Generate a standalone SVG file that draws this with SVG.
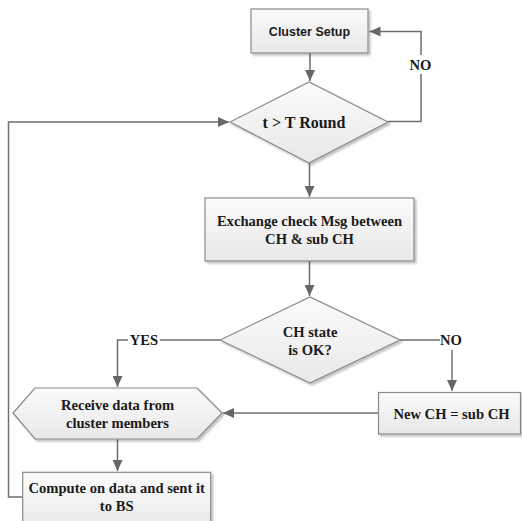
<svg xmlns="http://www.w3.org/2000/svg" width="522" height="521" viewBox="0 0 522 521">
<defs>
<linearGradient id="g" x1="0" y1="0" x2="0" y2="1">
<stop offset="0" stop-color="#fbfbfb"/>
<stop offset="1" stop-color="#e8e8e8"/>
</linearGradient>
<filter id="sh" x="-10%" y="-10%" width="130%" height="140%">
<feGaussianBlur in="SourceAlpha" stdDeviation="1.2"/>
<feOffset dx="2" dy="2" result="b"/>
<feComponentTransfer><feFuncA type="linear" slope="0.25"/></feComponentTransfer>
<feMerge><feMergeNode/><feMergeNode in="SourceGraphic"/></feMerge>
</filter>
<marker id="ah" markerWidth="12" markerHeight="10" refX="11" refY="5" orient="auto" markerUnits="userSpaceOnUse">
<path d="M0,0 L11,5 L0,10 z" fill="#666"/>
</marker>
</defs>
<style>
.n{fill:url(#g);stroke:#8a8a8a;stroke-width:1.2;filter:url(#sh)}
.c{fill:none;stroke:#6e6e6e;stroke-width:1.5}
.a{marker-end:url(#ah)}
.t{font-family:"Liberation Serif","Times New Roman",serif;font-weight:bold;font-size:14.6px;fill:#1a1a1a;text-anchor:middle}
.s{font-family:"Liberation Sans",Arial,sans-serif;font-weight:bold;font-size:12.5px;fill:#1a1a1a;text-anchor:middle}
</style>
<rect width="522" height="521" fill="#fff"/>
<g id="connectors">
<path class="c a" d="M310,53 V81"/>
<path class="c" d="M388,121.5 H421 V74"/>
<path class="c a" d="M421,55 V31.5 H369.5"/>
<path class="c a" d="M309.5,163 V197"/>
<path class="c a" d="M309.5,261 V296"/>
<path class="c a" d="M22.7,497 H8.5 V122 H229"/>
<path class="c" d="M400,340 H440"/>
<path class="c a" d="M452,350 V391"/>
<path class="c" d="M220,340 H160"/>
<path class="c a" d="M128,340 H117.5 V387"/>
<path class="c a" d="M378,413 H223"/>
<path class="c a" d="M117.5,439 V471"/>
</g>
<g id="cluster-setup">
<rect class="n" x="251" y="9" width="117" height="44"/>
<text class="s" x="309.5" y="35.5">Cluster Setup</text>
</g>
<g id="t-round">
<polygon class="n" points="230,122 309,82 388,122 309,163"/>
<text class="t" x="304" y="127.5" style="font-size:16px">t &gt; T Round</text>
</g>
<g id="exchange">
<rect class="n" x="205" y="198" width="209" height="63"/>
<text class="t" x="309.5" y="226">Exchange check Msg between</text>
<text class="t" x="309.5" y="244">CH &amp; sub CH</text>
</g>
<g id="ch-state">
<polygon class="n" points="220,340 310,297 400,340 310,383"/>
<text class="t" x="310" y="336.5">CH state</text>
<text class="t" x="310" y="355">is OK?</text>
</g>
<g id="new-ch">
<rect class="n" x="378.5" y="392.5" width="142" height="41.5"/>
<text class="t" x="451.5" y="418.5">New CH = sub CH</text>
</g>
<g id="receive">
<polygon class="n" points="13,413 35,388 197,388 222,413 197,439 35,439"/>
<text class="t" x="117.5" y="410">Receive data from</text>
<text class="t" x="117.5" y="428">cluster members</text>
</g>
<g id="compute">
<rect class="n" x="22.7" y="472.3" width="188" height="60"/>
<text class="t" x="116.7" y="493">Compute on data and sent it</text>
<text class="t" x="116.7" y="511">to BS</text>
</g>
<g id="labels">
<text class="t" x="420.5" y="70">NO</text>
<text class="t" x="451" y="345">NO</text>
<text class="t" x="144" y="345">YES</text>
</g>
</svg>
